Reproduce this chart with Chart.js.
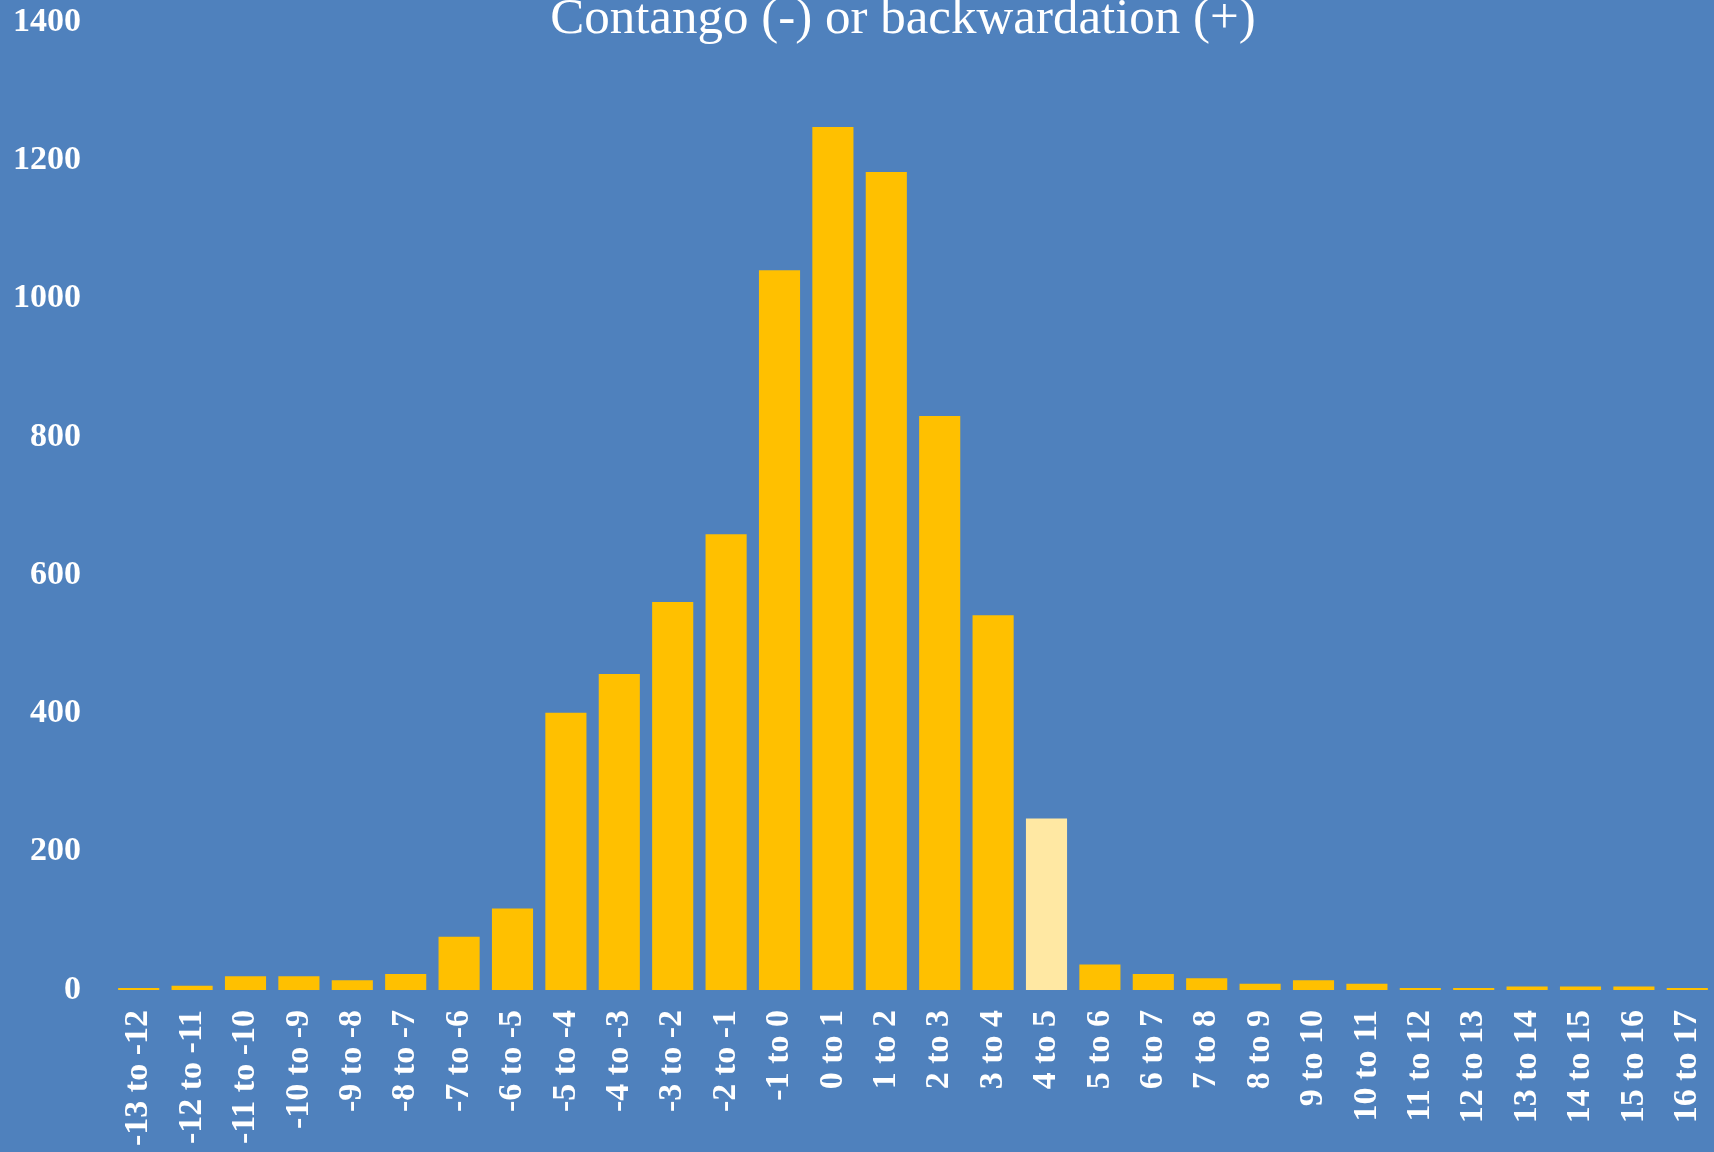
<!DOCTYPE html>
<html>
<head>
  <meta charset="utf-8" />
  <title>Contango or backwardation</title>
  <script src="https://cdn.jsdelivr.net/npm/chart.js"></script>
  <style>
    body {
      background: #4F81BD;
      margin: 0;
    }
    #chart-container {
      width: 1714px;
      height: 1152px;
    }
  </style>
</head>
<body>

  <div id="chart-container">
    <canvas id="spreadChart"></canvas>
  </div>

  <script>
    const categories = [
      '-13 to -12', '-12 to -11', '-11 to -10', '-10 to -9', '-9 to -8', '-8 to -7',
      '-7 to -6', '-6 to -5', '-5 to -4', '-4 to -3', '-3 to -2', '-2 to -1',
      '-1 to 0', '0 to 1', '1 to 2', '2 to 3', '3 to 4', '4 to 5',
      '5 to 6', '6 to 7', '7 to 8', '8 to 9', '9 to 10', '10 to 11',
      '11 to 12', '12 to 13', '13 to 14', '14 to 15', '15 to 16', '16 to 17'
    ];
    const counts = [
      3, 6, 20, 20, 14, 23,
      77, 118, 401, 457, 561, 659,
      1041, 1248, 1183, 830, 542, 248,
      37, 23, 17, 9, 14, 9,
      3, 3, 5, 5, 5, 3
    ];
    const highlighted = '4 to 5';
    const yTicks = [0, 200, 400, 600, 800, 1000, 1200, 1400];

    const barColors = categories.map(c => c === highlighted ? '#FFE8A3' : '#FFC000');

    // title is centred over the plot area and overlaps its top, so it is drawn by hand
    const titlePlugin = {
      id: 'plotTitle',
      afterDraw(chart) {
        const ctx = chart.ctx;
        const area = chart.chartArea;
        ctx.save();
        ctx.fillStyle = '#FFFFFF';
        ctx.font = '51px "Liberation Serif", serif';
        ctx.textAlign = 'center';
        ctx.textBaseline = 'alphabetic';
        ctx.fillText('Contango (-) or backwardation (+)', (area.left + area.right) / 2 - 10, 33);
        ctx.restore();
      }
    };

    const tickFont = { family: '"Liberation Serif", serif', size: 34, weight: 'bold' };

    new Chart(document.getElementById('spreadChart').getContext('2d'), {
      type: 'bar',
      data: {
        labels: categories,
        datasets: [{
          data: counts,
          backgroundColor: barColors,
          borderWidth: 0,
          barPercentage: 0.77,
          categoryPercentage: 1.0
        }]
      },
      options: {
        responsive: true,
        maintainAspectRatio: false,
        animation: false,
        layout: {
          padding: { top: 22, right: 0, bottom: 0, left: 0 }
        },
        plugins: {
          legend: { display: false },
          title: { display: false },
          tooltip: { enabled: false }
        },
        scales: {
          x: {
            grid: { display: false, drawTicks: false },
            border: { display: false },
            ticks: {
              color: '#FFFFFF',
              font: tickFont,
              minRotation: 90,
              maxRotation: 90,
              autoSkip: false,
              padding: 20
            },
            afterFit: scale => {
              scale.height = 162;
              scale.paddingLeft = 0;
              scale.paddingRight = 0;
            }
          },
          y: {
            min: 0,
            max: 1400,
            grid: { display: false, drawTicks: false },
            border: { display: false },
            afterBuildTicks: scale => { scale.ticks = yTicks.map(v => ({ value: v })); },
            ticks: {
              color: '#FFFFFF',
              font: tickFont,
              padding: 31,
              callback: v => String(v)
            },
            afterFit: scale => {
              scale.width = 112;
              scale.paddingTop = 0;
              scale.paddingBottom = 0;
            }
          }
        }
      },
      plugins: [titlePlugin]
    });
  </script>

</body>
</html>
